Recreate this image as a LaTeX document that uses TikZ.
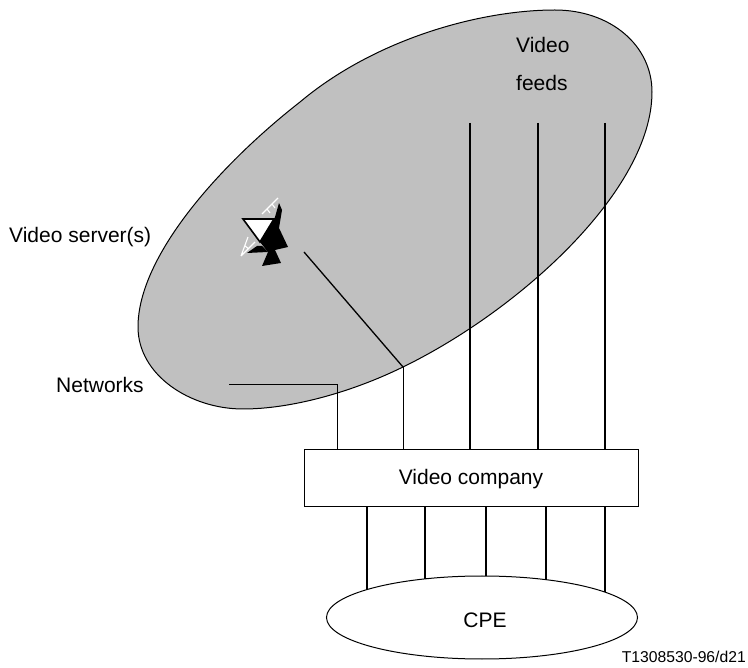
\documentclass[tikz,border=0pt]{standalone}
\usepackage{fontspec}
\setmainfont{Liberation Sans}
\usepackage{xcolor}
\usepackage{tikz}
\usetikzlibrary{positioning}
\usetikzlibrary{shapes.geometric}
\usetikzlibrary{calc}
\definecolor{cloudgray}{HTML}{C0C0C0}
\newcommand{\labelsize}{\fontsize{21}{25}\selectfont}
\newcommand{\refsize}{\fontsize{15.7}{19}\selectfont}

\begin{document}
\begin{tikzpicture}[x=1pt,y=-1pt]
    \tikzstyle{every node}=[font=\labelsize]
    \tikzstyle{wire}=[line width=1.3pt]
    \tikzstyle{thinwire}=[line width=1pt]
    \tikzstyle{caption}=[anchor=base west, inner sep=0pt]
    \useasboundingbox (0,0) rectangle (748,668); %
    \draw[fill=cloudgray, line width=1pt] (555,10) .. controls (610,10) and (652,45) .. (652,92) .. controls (652,190) and (520,310) .. (403,367) .. controls (350,393) and (290,409) .. (243,409) .. controls (190,409) and (138,375) .. (138,327) .. controls (138,255) and (222,163) .. (300,102) .. controls (375,39) and (480,10) .. cycle; %
    \node[draw, line width=1pt, minimum width=334pt, minimum height=57pt, inner sep=0pt] (company) at (471,478) {}; %
    \node[draw, ellipse, line width=1pt, minimum width=311pt, minimum height=83pt, inner sep=0pt] (cpe) at (482,617.5) {}; %
    \node[anchor=base, inner sep=0pt] (companytext) at (471,485) {Video company}; %
    \node[anchor=base, inner sep=0pt] (cpetext) at (485,627) {CPE}; %
    \node[caption] (video) at (516,53) {Video}; %
    \node[caption] (feeds) at (516,91) {feeds}; %
    \node[caption] (server) at (9,243) {Video server(s)}; %
    \node[caption] (networks) at (56,393) {Networks}; %
    \node[anchor=base east, inner sep=0pt, font=\refsize] (ref) at (746,662) {T1308530-96/d21}; %
    \coordinate (f1) at (470,123); %
    \coordinate (f2) at (538,123); %
    \coordinate (f3) at (605,123); %
    \coordinate (n1) at (229,385); %
    \coordinate (n2) at (337,385); %
    \coordinate (s1) at (304,252); %
    \coordinate (s2) at (403,367); %
    \coordinate (c1) at (367,590); %
    \coordinate (c2) at (425,579); %
    \coordinate (c3) at (486,576.5); %
    \coordinate (c4) at (546,580); %
    \coordinate (c5) at (605,592); %
    \draw[wire] (f1) -- (f1 |- company.north); %
    \draw[wire] (f2) -- (f2 |- company.north); %
    \draw[wire] (f3) -- (f3 |- company.north); %
    \draw[thinwire] (n1) -- (n2) -- (n2 |- company.north); %
    \draw[wire] (s1) -- (s2); %
    \draw[thinwire] (s2) -- (s2 |- company.north); %
    \draw[wire] (c1 |- company.south) -- (c1); %
    \draw[wire] (c2 |- company.south) -- (c2); %
    \draw[wire] (c3 |- company.south) -- (c3); %
    \draw[wire] (c4 |- company.south) -- (c4); %
    \draw[wire] (c5 |- company.south) -- (c5); %
    % dish
    \fill[black] (279,203) -- (282,210) -- (279,228) -- (288,247) -- (275,250) -- (281,263) -- (262,266) -- (268,252) -- (260,242) -- (274,219) -- (275,217) -- cycle; %
    \fill[black] (247,253) -- (257,246) -- (262,246) -- (268,252) -- cycle; %
    \draw[fill=white, line width=1.6pt, line join=miter] (243,219) -- (274,219) -- (260,242) -- cycle; %
    \draw[white, line width=1.1pt] (262,214) -- (278,198) (267,209) -- (270,213) (272,204) -- (275,208); %
    \draw[white, line width=1.1pt] (241,256) -- (248,237) (241,256) -- (255,242) (245,246) -- (249,249); %
  \end{tikzpicture}
\end{document}
